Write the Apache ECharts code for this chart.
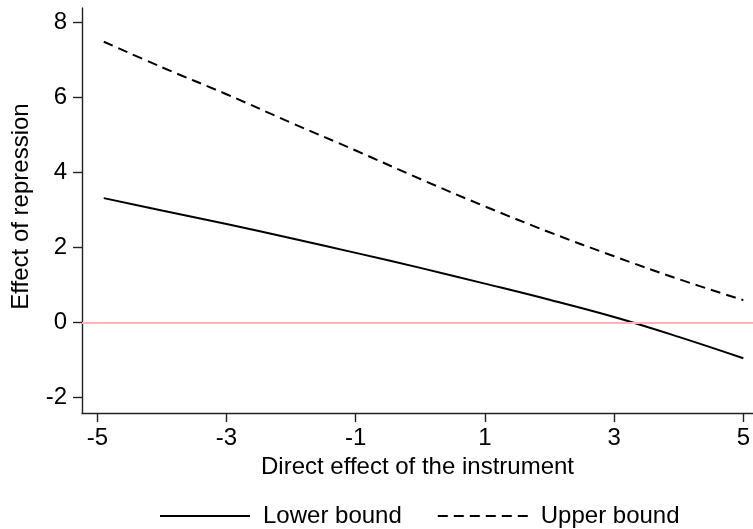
<!DOCTYPE html>
<html>
<head>
<meta charset="utf-8">
<script src="https://cdn.jsdelivr.net/npm/echarts@6/dist/echarts.min.js"></script>
<style>html,body{margin:0;padding:0;background:#fff}#c{width:753px;height:529px}</style>
</head>
<body>
<div id="c"></div>
<script>
const xValues = [-4.9, -4, -3, -2, -1, 0, 1, 2, 3, 4, 5];
const lowerBound = [3.31, 2.98, 2.62, 2.24, 1.85, 1.45, 1.03, 0.60, 0.14, -0.39, -0.96];
const upperBound = [7.48, 6.80, 6.08, 5.32, 4.58, 3.82, 3.09, 2.40, 1.76, 1.15, 0.59];
const xTicks = [-5, -3, -1, 1, 3, 5];
const yTicks = [-2, 0, 2, 4, 6, 8];
const seriesNames = ['Lower bound', 'Upper bound'];

const font = 'Liberation Sans, Arial, Helvetica, sans-serif';
const chart = echarts.init(document.getElementById('c'), null, {renderer: 'canvas'});
chart.setOption({
  animation: false,
  backgroundColor: '#fff',
  grid: {left: 82, right: 0, top: 8, bottom: 116, containLabel: false},
  legend: {
    left: 154, top: 499,
    itemWidth: 90, itemHeight: 14, itemGap: 35,
    data: seriesNames,
    itemStyle: {opacity: 0},
    textStyle: {fontFamily: font, fontSize: 24, color: '#000', padding: [0, 0, 0, 8]}
  },
  xAxis: {
    type: 'value', min: -5.237, max: 5.15,
    name: 'Direct effect of the instrument',
    nameLocation: 'middle', nameGap: 41,
    nameTextStyle: {fontFamily: font, fontSize: 24, color: '#000'},
    axisLine: {show: true, onZero: false, lineStyle: {color: '#222', width: 1.4}},
    axisTick: {show: true, length: 9, customValues: xTicks, lineStyle: {color: '#222', width: 1.4}},
    axisLabel: {customValues: xTicks, margin: 13, fontFamily: font, fontSize: 24, color: '#000'},
    splitLine: {show: false}
  },
  yAxis: {
    type: 'value', min: -2.42, max: 8.38,
    name: 'Effect of repression',
    nameLocation: 'middle', nameGap: 49,
    nameTextStyle: {fontFamily: font, fontSize: 24, color: '#000', padding: [0, 0, 0, 8]},
    axisLine: {show: true, onZero: false, lineStyle: {color: '#222', width: 1.4}},
    axisTick: {show: true, length: 9, customValues: yTicks, lineStyle: {color: '#222', width: 1.4}},
    axisLabel: {customValues: yTicks, margin: 15, fontFamily: font, fontSize: 24, color: '#000'},
    splitLine: {show: false}
  },
  series: [
    {
      name: seriesNames[0], type: 'line', smooth: 0.4, symbol: 'none',
      data: xValues.map((x, i) => [x, lowerBound[i]]),
      lineStyle: {color: '#000', width: 2, type: 'solid'},
      itemStyle: {color: '#000'},
      markLine: {
        silent: true, symbol: 'none', label: {show: false},
        lineStyle: {color: '#ffb3b3', width: 2, type: 'solid'},
        data: [{yAxis: 0}]
      },
      z: 3
    },
    {
      name: seriesNames[1], type: 'line', smooth: 0.4, symbol: 'none',
      data: xValues.map((x, i) => [x, upperBound[i]]),
      lineStyle: {color: '#000', width: 2, type: [10, 6]},
      itemStyle: {color: '#000'},
      z: 3
    }
  ]
});
</script>
</body>
</html>
